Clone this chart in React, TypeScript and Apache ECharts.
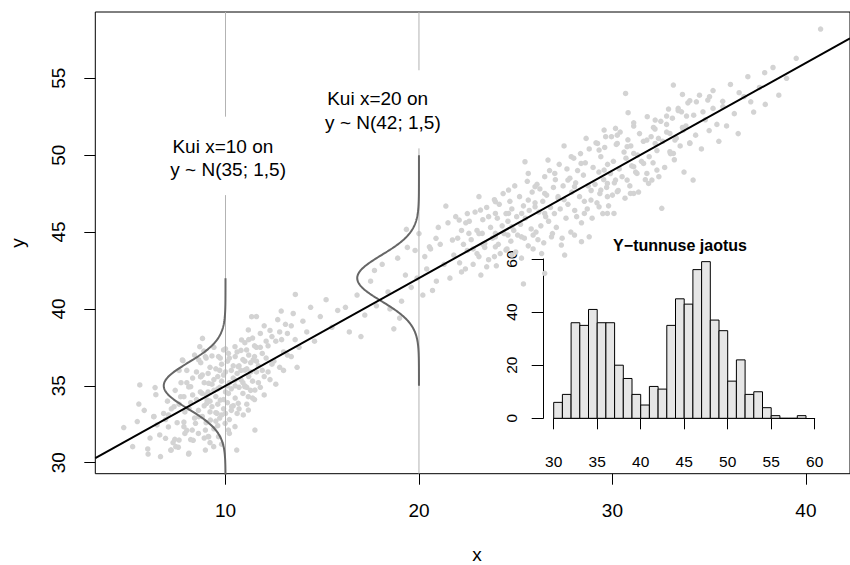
import React, { useEffect, useRef } from "react";
import * as echarts from "echarts";

const X_MIN = 3.27;
const X_MAX = 42.28;
const Y_MIN = 29.28;
const Y_MAX = 59.31;
const xTicks = [10, 20, 30, 40];
const yTicks = [30, 35, 40, 45, 50, 55];

const cluster1: [number, number][] = [
  [4.74, 32.28], [5.2, 31.04], [5.44, 32.67], [5.52, 33.81], [5.57, 35.05], [5.98, 30.89], [6.0, 30.56],
  [6.29, 32.99], [6.36, 34.88], [6.4, 34.42], [6.46, 32.45], [6.64, 30.39], [6.9, 31.58], [7.05, 32.32],
  [7.19, 30.82], [7.29, 31.3], [7.38, 31.52], [7.56, 31.0], [7.8, 36.63], [7.85, 32.64], [8.09, 30.56],
  [8.1, 34.92], [8.33, 31.45], [8.72, 36.5], [8.72, 35.59], [8.81, 38.08], [8.88, 37.26], [9.03, 33.86],
  [9.1, 31.69], [9.3, 36.94], [9.5, 33.25], [9.73, 36.8], [6.3, 33.0], [7.05, 33.1], [7.34, 33.64],
  [7.68, 34.29], [7.77, 36.68], [7.85, 34.29], [8.2, 34.94], [8.11, 33.53], [8.67, 37.54], [8.62, 36.68],
  [8.96, 36.9], [8.71, 35.59], [8.79, 34.5], [9.13, 35.16], [9.05, 34.07], [9.3, 33.64], [8.62, 32.99],
  [9.22, 32.77], [9.56, 33.21], [9.73, 34.07], [10.15, 34.5], [9.64, 36.9], [9.9, 37.33], [10.15, 37.11],
  [10.49, 37.54], [10.83, 37.98], [11.18, 38.63], [11.09, 37.33], [10.66, 36.24], [11.0, 36.02],
  [11.43, 36.68], [11.35, 39.49], [11.6, 39.5], [10.49, 35.37], [11.0, 34.94], [11.52, 34.72],
  [11.18, 34.29], [10.32, 33.64], [10.66, 33.86], [9.98, 32.56], [10.15, 32.12], [9.64, 31.69],
  [10.49, 32.34], [10.92, 33.1], [11.18, 33.42], [11.52, 32.12], [10.58, 30.82], [9.39, 31.04],
  [8.96, 30.82], [8.11, 30.61], [7.17, 30.82], [7.6, 31.47], [7.43, 31.04], [8.28, 32.12], [8.45, 32.56],
  [7.85, 32.34], [8.96, 32.12], [9.13, 31.69], [12.88, 39.86], [13.61, 40.94],
  [8.5, 34.1], [8.6, 33.4], [8.7, 34.6], [8.8, 33.0], [8.9, 35.2], [9.0, 34.4], [9.0, 32.6], [9.1, 35.8],
  [9.2, 34.0], [9.2, 33.3], [9.3, 35.1], [9.4, 34.7], [9.4, 32.2], [9.5, 36.1], [9.5, 34.3], [9.6, 35.6],
  [9.6, 33.8], [9.7, 34.9], [9.7, 32.9], [9.8, 36.4], [9.8, 35.3], [9.9, 34.1], [9.9, 33.5], [10.0, 35.9],
  [10.0, 34.6], [10.1, 36.6], [10.1, 33.9], [10.2, 35.2], [10.2, 32.8], [10.3, 36.0], [10.3, 34.8],
  [10.4, 35.5], [10.4, 33.7], [10.5, 36.9], [10.5, 34.2], [10.6, 35.8], [10.6, 33.2], [10.7, 36.3],
  [10.7, 34.9], [10.8, 35.4], [10.8, 37.3], [10.9, 34.5], [10.9, 36.7], [11.0, 35.0], [11.0, 37.8],
  [11.1, 36.1], [11.1, 33.8], [11.2, 35.6], [11.2, 37.0], [11.3, 34.7], [11.3, 36.5], [11.4, 38.1],
  [11.4, 35.3], [11.5, 36.9], [11.5, 34.1], [11.6, 37.5], [11.6, 35.9], [11.7, 36.3], [11.8, 38.4],
  [11.8, 34.9], [11.9, 37.1], [12.0, 35.6], [12.0, 38.9], [12.1, 36.8], [12.2, 37.6], [12.3, 35.4],
  [12.4, 38.2], [12.5, 36.6], [12.6, 37.9], [12.7, 39.3], [12.8, 36.2], [12.9, 38.0], [13.0, 37.2],
  [13.1, 39.0], [13.2, 38.4], [13.4, 36.9], [13.5, 39.7], [13.6, 38.0], [13.8, 37.5], [14.0, 39.2],
  [14.2, 38.5], [14.4, 40.1], [14.6, 37.9], [14.9, 39.5], [15.2, 40.6], [15.5, 38.8], [15.8, 39.9],
  [7.9, 33.3], [8.0, 32.1], [8.2, 33.9], [8.3, 35.5], [8.4, 32.9], [7.6, 33.8], [7.5, 32.6], [7.7, 35.2],
  [8.0, 36.0], [8.4, 37.0], [7.2, 33.5], [7.0, 34.0], [6.8, 33.2], [6.6, 31.8],
  [8.9, 33.7], [9.1, 34.6], [9.2, 36.2], [9.4, 35.4], [9.5, 32.7], [9.6, 34.8], [9.7, 36.0], [9.8, 33.1],
  [9.9, 35.7], [10.0, 33.2], [10.1, 35.0], [10.2, 36.8], [10.3, 33.4], [10.4, 36.3], [10.5, 35.0],
  [10.6, 37.2], [10.7, 33.5], [10.8, 36.0], [10.9, 35.2], [11.0, 36.6], [11.1, 34.9], [11.2, 38.0],
  [11.3, 35.9], [11.4, 34.2], [11.5, 37.6], [11.6, 36.6], [11.7, 35.2], [11.8, 37.5], [11.9, 36.0],
  [12.0, 34.4], [12.1, 37.9], [12.2, 35.9], [12.3, 38.6], [12.4, 36.4], [12.6, 35.1], [12.8, 38.5],
  [13.0, 36.0], [13.2, 37.0], [13.4, 38.9], [13.7, 36.2], [8.3, 34.4], [8.5, 35.9], [8.6, 31.9],
  [8.8, 35.7], [8.9, 31.6], [9.0, 36.8], [9.2, 31.3], [9.4, 37.5], [9.6, 32.4], [9.8, 31.2], [10.0, 37.4],
  [10.2, 31.9], [7.4, 34.7], [7.6, 36.0], [8.0, 35.2], [8.2, 31.5], [7.9, 31.9], [6.9, 32.8], [6.1, 31.6],
  [5.8, 33.4],
];

const cluster2: [number, number][] = [
  [19.35, 45.17], [21.39, 46.69], [22.08, 45.78], [22.42, 45.6], [23.1, 47.3], [23.18, 46.43], [23.95, 46.97],
  [24.63, 47.73], [25.48, 49.57], [25.65, 48.81], [26.0, 47.95], [26.67, 49.68], [27.02, 48.81], [27.5, 50.6],
  [27.7, 48.38], [27.87, 49.9], [28.38, 49.46], [28.64, 51.09], [28.89, 47.08], [20.88, 44.59], [20.54, 44.04],
  [21.73, 44.48], [22.58, 44.91], [23.27, 44.91], [23.95, 44.91], [24.8, 45.34], [25.31, 46.21], [25.65, 47.08],
  [26.0, 46.64], [26.5, 47.51], [27.19, 47.3], [28.04, 47.95], [28.55, 46.21], [26.5, 46.21], [24.63, 46.21],
  [23.95, 46.21], [40.76, 58.2], [37.87, 55.36], [33.15, 54.56], [30.68, 54.01], [33.62, 53.95], [36.55, 54.06],
  [34.0, 53.54], [34.34, 53.47], [35.02, 53.8], [34.93, 53.58], [37.15, 53.47], [30.81, 52.76], [33.4, 53.04],
  [32.8, 52.54], [33.57, 52.82], [33.83, 52.54], [34.68, 52.82], [35.2, 53.04], [35.71, 53.15], [31.1, 51.89],
  [32.21, 52.28], [32.12, 51.8], [32.8, 52.0], [33.62, 51.8], [29.57, 51.63], [30.16, 51.74], [29.65, 51.2],
  [30.25, 51.3], [29.23, 50.76], [29.31, 50.33], [30.25, 50.76], [30.76, 50.55], [31.1, 50.11], [31.78, 50.98],
  [32.21, 50.76], [32.38, 51.09], [32.97, 51.41], [33.23, 50.98], [33.66, 51.63], [34.0, 50.76], [32.97, 50.22],
  [33.15, 50.11], [34.17, 48.38], [32.55, 46.54], [32.3, 49.03], [31.1, 49.25], [31.27, 48.81], [31.61, 49.46],
  [30.76, 48.38], [30.16, 48.38], [29.57, 49.03], [29.74, 48.16], [29.4, 47.73], [30.25, 47.62], [30.93, 47.51],
  [31.78, 48.81], [31.87, 48.16], [32.04, 48.38], [31.1, 47.51], [29.31, 46.64], [29.74, 46.21], [30.08, 46.21],
  [29.74, 47.3], [26.5, 42.31], [25.4, 41.62], [27.53, 43.5], [28.8, 44.69], [28.4, 44.37], [27.36, 44.15],
  [28.04, 44.8], [26.85, 44.69], [25.9, 44.8], [25.3, 44.69], [24.6, 44.8], [23.95, 44.69], [23.4, 44.26],
  [23.1, 43.4], [23.95, 44.04], [24.5, 43.83], [26.34, 43.6], [24.8, 43.5], [23.5, 42.74],
  [16.4, 38.5], [16.8, 40.9], [17.2, 39.6], [17.5, 41.8], [17.8, 40.2], [18.1, 42.9], [18.4, 41.1], [18.7, 38.7],
  [18.9, 43.3], [19.1, 40.5], [19.3, 42.2], [19.6, 41.4], [19.8, 43.8], [20.0, 44.9], [20.2, 40.9], [20.4, 42.6],
  [20.6, 43.9], [20.9, 41.8], [21.1, 44.2], [21.3, 42.9], [21.5, 45.6], [21.8, 43.5], [22.0, 44.6], [22.2, 42.4],
  [22.5, 46.2], [22.8, 43.9], [23.0, 45.1], [23.3, 44.2], [23.6, 46.0], [23.9, 43.4],
  [22.1, 43.0], [22.2, 45.1], [22.3, 44.2], [22.4, 42.6], [22.5, 43.8], [22.6, 45.7], [22.7, 44.5], [22.8, 42.9],
  [22.9, 46.3], [23.0, 43.6], [23.1, 44.9], [23.2, 42.2], [23.3, 45.8], [23.4, 44.0], [23.5, 46.6], [23.6, 43.2],
  [23.7, 45.3], [23.8, 44.6], [23.9, 47.1], [24.0, 42.8],
  [24.05, 45.9], [24.1, 44.2], [24.15, 46.8], [24.2, 43.6], [24.3, 45.4], [24.35, 47.5], [24.4, 44.9], [24.5, 46.2],
  [24.55, 43.9], [24.6, 45.7], [24.7, 47.0], [24.75, 44.4], [24.8, 46.5], [24.9, 45.1], [24.95, 48.0], [25.0, 43.7],
  [25.05, 46.0], [25.1, 44.8], [25.2, 47.3], [25.25, 45.5], [25.3, 43.3], [25.4, 46.7], [25.45, 44.6], [25.5, 45.9],
  [25.6, 48.3], [25.65, 44.1], [25.7, 46.4], [25.8, 45.2], [25.85, 47.6], [25.9, 43.9], [26.0, 46.9], [26.05, 45.0],
  [26.1, 48.1], [26.15, 44.5],
  [26.2, 46.3], [26.25, 47.8], [26.3, 45.4], [26.4, 47.0], [26.45, 44.3], [26.5, 48.6], [26.55, 46.0], [26.6, 47.4],
  [26.7, 45.7], [26.75, 49.0], [26.8, 46.6], [26.9, 44.9], [26.95, 47.9], [27.0, 46.2], [27.05, 48.4], [27.1, 45.3],
  [27.2, 47.2], [27.25, 49.4], [27.3, 46.5], [27.4, 44.6], [27.45, 48.0], [27.5, 47.1], [27.6, 45.9], [27.65, 49.1],
  [27.7, 46.8], [27.8, 48.5], [27.85, 45.0], [27.9, 47.6], [28.0, 49.8], [28.05, 46.4],
  [28.1, 48.2], [28.15, 46.0], [28.2, 49.0], [28.3, 47.3], [28.35, 50.1], [28.4, 45.6], [28.5, 48.7], [28.55, 47.0],
  [28.6, 49.5], [28.7, 46.5], [28.75, 48.0], [28.8, 50.4], [28.9, 47.7], [28.95, 45.9], [29.0, 49.2], [29.1, 48.1],
  [29.15, 50.8], [29.2, 46.9], [29.3, 48.9], [29.35, 47.5], [29.4, 49.9], [29.5, 46.2], [29.55, 48.4], [29.6, 50.5],
  [29.7, 47.9], [29.75, 49.4], [29.8, 46.7], [29.9, 48.8], [29.95, 51.2], [30.0, 47.4],
  [30.05, 49.6], [30.1, 48.2], [30.2, 50.7], [30.3, 47.7], [30.35, 49.1], [30.4, 51.5], [30.5, 48.6], [30.6, 50.2],
  [30.65, 47.2], [30.7, 49.8], [30.8, 51.0], [30.9, 48.0], [30.95, 50.6], [31.0, 49.3], [31.1, 52.1], [31.2, 48.9],
  [31.3, 50.0], [31.35, 47.6], [31.4, 51.4], [31.5, 49.6], [31.6, 50.9], [31.7, 48.4], [31.8, 52.5], [31.9, 49.9],
  [32.0, 51.2],
  [32.1, 49.5], [32.2, 51.7], [32.3, 50.3], [32.4, 48.6], [32.5, 52.2], [32.6, 50.9], [32.7, 49.2], [32.8, 51.5],
  [32.9, 53.0], [33.0, 50.1], [33.1, 52.4], [33.2, 49.7], [33.3, 51.1], [33.4, 52.9], [33.5, 50.6], [33.7, 48.9],
  [33.8, 51.9], [33.9, 53.4], [34.0, 50.8], [34.2, 52.6],
  [34.3, 51.3], [34.5, 53.9], [34.6, 50.4], [34.8, 52.3], [35.0, 51.6], [35.2, 54.2], [35.4, 52.0], [35.5, 50.9],
  [35.7, 53.5], [35.9, 51.9], [36.1, 54.6], [36.3, 52.7], [36.5, 51.4], [36.8, 53.8], [37.0, 55.1],
  [37.3, 52.8], [37.6, 54.4], [37.9, 53.3], [38.3, 55.7], [38.6, 53.9], [39.0, 55.0], [39.5, 56.3],
  [16.2, 40.1], [17.0, 38.2], [17.7, 42.5], [18.5, 40.0], [19.0, 39.4], [19.4, 44.0], [19.9, 42.0], [20.3, 43.4],
  [20.7, 41.2], [21.0, 45.3], [21.6, 42.0], [21.9, 46.0],
];

const regIntercept = 28;
const regSlope = 0.7;

const densityCurves = [
  { xAt: 10, mean: 35, sd: 1.5, yFrom: 28, yTo: 42, scale: 12 },
  { xAt: 20, mean: 42, sd: 1.5, yFrom: 35, yTo: 50, scale: 12 },
];

const annotations = [
  { x: 10, y: 49.8, text: "Kui x=10 on \n y ~ N(35; 1,5)" },
  { x: 18, y: 52.9, text: "Kui x=20 on \n y ~ N(42; 1,5)" },
];

const guideSegments: [number, number, number][] = [
  [10, Y_MIN, 47.4],
  [10, 52.5, Y_MAX],
  [20, Y_MIN, 50.44],
  [20, 55.52, Y_MAX],
];

const histBreaks = [30, 31, 32, 33, 34, 35, 36, 37, 38, 39, 40, 41, 42, 43, 44, 45, 46, 47, 48, 49, 50, 51, 52, 53, 54, 55, 56, 57, 58, 59];
const histCounts = [6, 9, 36, 35, 41, 36, 36, 20, 15, 9, 5, 12, 11, 35, 45, 43, 56, 59, 37, 33, 14, 22, 9, 10, 4, 1, 0, 0, 1];

const FONT = "'Liberation Sans', Arial, Helvetica, sans-serif";

function dnorm(y: number, m: number, s: number) {
  return Math.exp(-0.5 * ((y - m) / s) ** 2) / (s * Math.sqrt(2 * Math.PI));
}

export default function App() {
  const ref = useRef<HTMLDivElement>(null);
  useEffect(() => {
    if (!ref.current) return;
    const chart = echarts.init(ref.current, undefined, { renderer: "svg" });

    const curveSeries = densityCurves.map((c) => {
      const pts: [number, number][] = [];
      const n = 280;
      for (let i = 0; i <= n; i++) {
        const y = c.yFrom + ((c.yTo - c.yFrom) * i) / n;
        pts.push([c.xAt - c.scale * dnorm(y, c.mean, c.sd), y]);
      }
      return {
        type: "line", xAxisIndex: 0, yAxisIndex: 0, data: pts, showSymbol: false, symbol: "none",
        lineStyle: { color: "#666666", width: 2 }, z: 4, silent: true,
      };
    });

    const guideSeries = guideSegments.map((g) => ({
      type: "line", xAxisIndex: 0, yAxisIndex: 0, data: [[g[0], g[1]], [g[0], g[2]]], symbol: "none",
      lineStyle: { color: "#b3b3b3", width: 1 }, z: 2, silent: true,
    }));

    const histData = histCounts.map((c, i) => [histBreaks[i], histBreaks[i] + 1, c]);

    const baseLabel = { color: "#000", fontFamily: FONT };

    chart.setOption({
      animation: false,
      backgroundColor: "#fff",
      textStyle: { fontFamily: FONT },
      grid: [
        { left: 95.3, top: 12, width: 763.4, height: 461.7, show: true, borderColor: "#000", borderWidth: 1, backgroundColor: "transparent" },
        { left: 553.7, top: 259, width: 261, height: 159.3, show: false },
      ],
      xAxis: [
        {
          type: "value", gridIndex: 0, min: X_MIN, max: X_MAX,
          axisLine: { show: false },
          axisTick: { show: true, customValues: xTicks, length: 11, lineStyle: { color: "#000", width: 1 } },
          axisLabel: { ...baseLabel, customValues: xTicks, fontSize: 19, margin: 27 },
          splitLine: { show: false },
        },
        {
          type: "value", gridIndex: 1, min: 30, max: 60, interval: 5, offset: 7.4,
          axisLine: { show: true, lineStyle: { color: "#000", width: 1 } },
          axisTick: { show: true, length: 11, lineStyle: { color: "#000", width: 1 } },
          axisLabel: { ...baseLabel, fontSize: 15.5, margin: 27.5, showMinLabel: true, showMaxLabel: true },
          splitLine: { show: false },
        },
      ],
      yAxis: [
        {
          type: "value", gridIndex: 0, min: Y_MIN, max: Y_MAX,
          axisLine: { show: false },
          axisTick: { show: true, customValues: yTicks, length: 11, lineStyle: { color: "#000", width: 1 } },
          axisLabel: { ...baseLabel, customValues: yTicks, fontSize: 19, margin: 27, rotate: 90 },
          splitLine: { show: false },
        },
        {
          type: "value", gridIndex: 1, min: 0, max: 60, interval: 20, offset: 10.4,
          axisLine: { show: true, lineStyle: { color: "#000", width: 1 } },
          axisTick: { show: true, length: 11.6, lineStyle: { color: "#000", width: 1 } },
          axisLabel: { ...baseLabel, fontSize: 15.5, margin: 24, rotate: 90, showMinLabel: true, showMaxLabel: true },
          splitLine: { show: false },
        },
      ],
      series: [
        {
          type: "scatter", xAxisIndex: 0, yAxisIndex: 0, data: cluster1.concat(cluster2), symbol: "circle",
          symbolSize: 5.5, itemStyle: { color: "#d3d3d3", opacity: 1 }, z: 1, silent: true,
        },
        ...guideSeries,
        ...curveSeries,
        {
          type: "line", xAxisIndex: 0, yAxisIndex: 0, symbol: "none",
          data: [[X_MIN, regIntercept + regSlope * X_MIN], [X_MAX, regIntercept + regSlope * X_MAX]],
          lineStyle: { color: "#000", width: 2 }, z: 5, silent: true,
        },
        {
          type: "custom", xAxisIndex: 1, yAxisIndex: 1, data: histData, z: 6, silent: true, clip: false,
          renderItem: (params: any, api: any) => {
            const p0 = api.coord([api.value(0), api.value(2)]);
            const p1 = api.coord([api.value(1), 0]);
            return {
              type: "rect",
              shape: { x: p0[0], y: p0[1], width: p1[0] - p0[0], height: p1[1] - p0[1] },
              style: { fill: "#e6e6e6", stroke: "#000", lineWidth: 1 },
            };
          },
        },
      ],
    });

    const graphics: any[] = annotations.map((a) => {
      const p = chart.convertToPixel({ xAxisIndex: 0, yAxisIndex: 0 }, [a.x, a.y]) as number[];
      return {
        type: "text", x: p[0], y: p[1], z: 10,
        style: { text: a.text, fontSize: 19, fontFamily: FONT, fill: "#000", align: "center", verticalAlign: "middle", lineHeight: 23.3 },
      };
    });
    graphics.push(
      { type: "text", x: 680, y: 245, z: 10, style: { text: "Y\u2212tunnuse jaotus", fontSize: 16, fontWeight: "bold", fontFamily: FONT, fill: "#000", align: "center", verticalAlign: "middle" } },
      { type: "text", x: 477, y: 554, z: 10, style: { text: "x", fontSize: 19, lineHeight: 19, fontFamily: FONT, fill: "#000", align: "center", verticalAlign: "middle" } },
      { type: "text", x: 17, y: 243, rotation: Math.PI / 2, z: 10, style: { text: "y", fontSize: 19, fontFamily: FONT, fill: "#000", align: "center", verticalAlign: "middle" } },
    );
    chart.setOption({ graphic: graphics });

    return () => chart.dispose();
  }, []);

  return <div ref={ref} style={{ position: "fixed", left: 0, top: 0, width: 850, height: 565 }} />;
}
